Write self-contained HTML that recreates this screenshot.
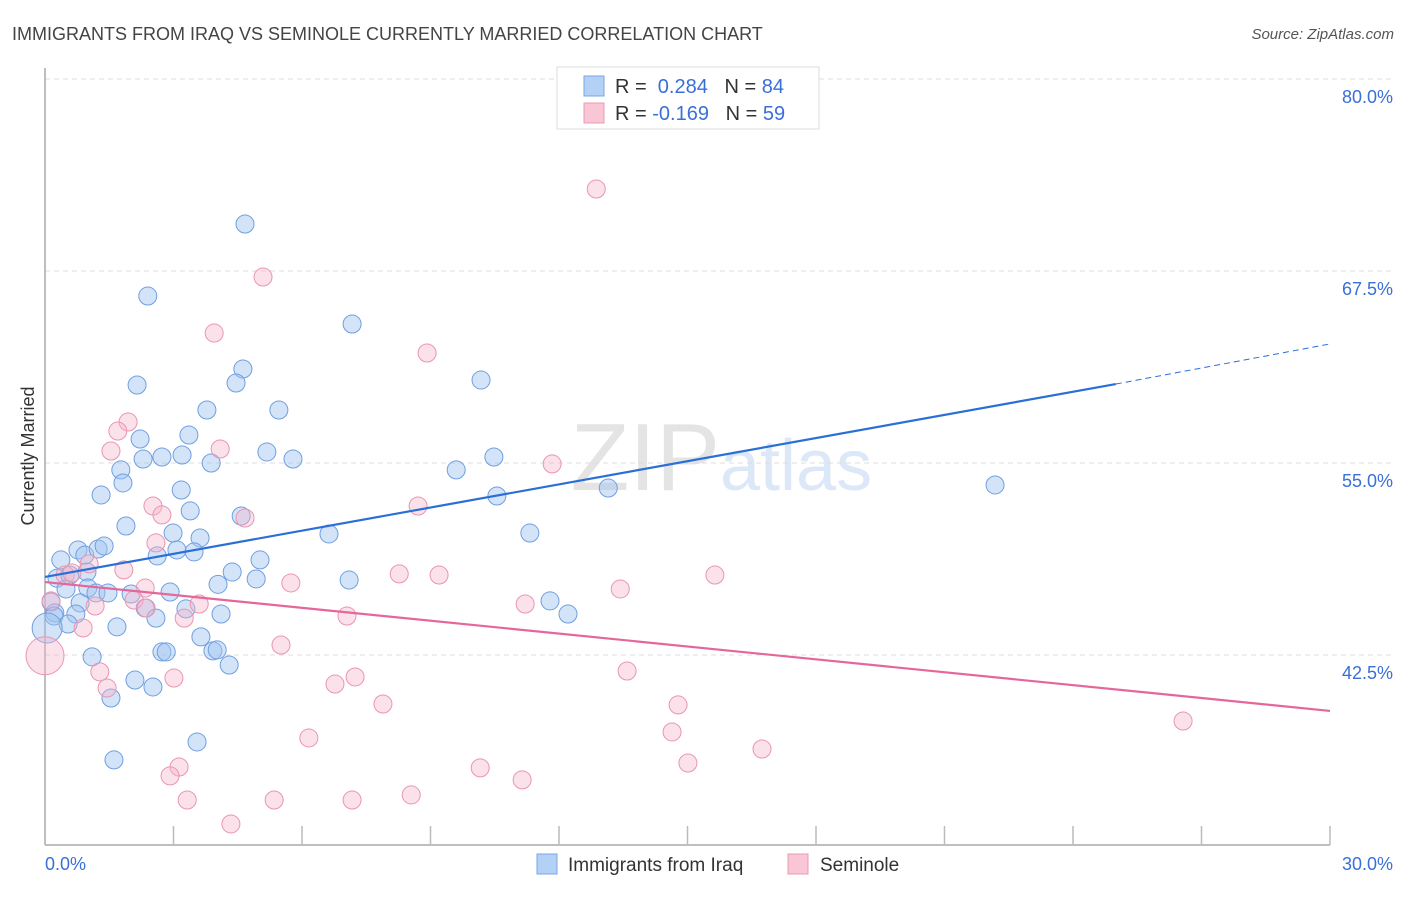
<!DOCTYPE html>
<html><head><meta charset="utf-8"><style>
body{margin:0;background:#fff;font-family:"Liberation Sans",sans-serif}
svg text{font-family:"Liberation Sans",sans-serif}
</style></head><body>
<svg id="chart" width="1406" height="892" viewBox="0 0 1406 892">
<text x="12" y="40" font-size="18" fill="#444">IMMIGRANTS FROM IRAQ VS SEMINOLE CURRENTLY MARRIED CORRELATION CHART</text>
<text x="1394" y="39" font-size="15" fill="#555" text-anchor="end" font-style="italic">Source: ZipAtlas.com</text>
<text x="34" y="456" font-size="18" fill="#333" text-anchor="middle" transform="rotate(-90 34 456)">Currently Married</text>
<text x="720" y="490" font-size="96" fill="#e4e4e4" text-anchor="end" font-family="Liberation Serif">ZIP</text>
<text x="720" y="490" font-size="72" fill="#dce8f8">atlas</text>
<g id="grid"></g><g id="pts"></g><g id="lines"></g>
<g>
<rect x="557" y="67" width="262" height="62" fill="#fff" stroke="#ddd"/>
<rect x="584" y="76" width="20" height="20" fill="#b3d0f5" stroke="#7aa6e6"/>
<rect x="584" y="103" width="20" height="20" fill="#f9c6d6" stroke="#eb9ab4"/>
<text x="615" y="93" font-size="20" fill="#333">R = <tspan fill="#3a6fd8">&#160;0.284</tspan>&#160;&#160;&#160;N = <tspan fill="#3a6fd8">84</tspan></text>
<text x="615" y="120" font-size="20" fill="#333">R = <tspan fill="#3a6fd8">-0.169</tspan>&#160;&#160;&#160;N = <tspan fill="#3a6fd8">59</tspan></text>
</g>
<g>
<rect x="537" y="854" width="20" height="20" fill="#b3d0f5" stroke="#7aa6e6"/>
<text x="568" y="871" font-size="19" fill="#333">Immigrants from Iraq</text>
<rect x="788" y="854" width="20" height="20" fill="#f9c6d6" stroke="#eb9ab4"/>
<text x="820" y="871" font-size="19" fill="#333">Seminole</text>
</g>
</svg>
<script>
const yTicks=[80,67.5,55,42.5];
const xTickLabels=["0.0%","30.0%"];
const blueX=[4.67,2.40,7.17,4.62,2.15,4.46,10.18,3.78,5.46,2.22,3.36,1.77,2.29,2.73,3.20,3.88,5.18,5.79,9.60,10.48,1.82,1.31,3.18,10.55,13.15,22.18,1.89,3.39,4.58,2.99,3.62,6.63,11.32,0.37,0.77,0.93,1.24,1.38,2.62,3.08,3.48,5.02,4.37,4.93,7.10,4.04,0.28,0.58,0.98,0.49,1.0,1.19,1.47,2.01,2.92,0.14,0.82,0.23,0.21,0.72,3.29,2.34,2.59,4.11,11.79,12.21,0.54,1.68,0.05,3.64,1.10,2.73,2.83,3.92,4.02,4.30,2.10,2.52,1.54,3.55,1.61];
const blueY=[70.56,65.87,64.05,61.12,60.08,60.21,60.4,58.45,58.45,56.56,56.82,54.55,55.26,55.39,55.52,55.0,55.72,55.26,54.55,55.39,53.7,52.92,53.24,52.85,53.37,53.57,50.9,51.88,51.55,50.44,50.12,50.38,50.44,48.69,49.34,49.0,49.4,49.6,48.95,49.34,49.21,48.69,47.9,47.45,47.38,47.1,47.5,47.7,47.9,46.8,46.86,46.54,46.54,46.47,46.6,45.95,45.89,45.24,45.04,45.17,45.5,45.56,44.9,45.17,46.02,45.17,44.52,44.33,44.26,43.68,42.38,42.7,42.7,42.77,42.83,41.85,40.87,40.42,39.7,36.84,35.67];
const blueSize=blueX.map((v,i)=>i===68?15:9);
const pinkX=[12.87,5.09,3.95,8.92,1.94,1.70,1.54,4.09,11.84,2.52,2.73,4.67,8.71,2.59,1.84,0.47,0.63,1.03,8.27,9.20,15.64,5.74,2.34,13.43,2.08,1.17,2.36,3.60,3.25,7.05,11.21,0.14,0.89,5.51,1.28,3.01,13.59,6.77,7.24,1.45,7.89,14.78,26.57,6.16,14.64,16.74,15.01,3.13,2.92,10.16,11.14,3.32,5.35,7.17,8.55,4.34,0.0];
const pinkY=[72.84,67.11,63.46,62.16,57.67,57.08,55.78,55.91,54.94,52.2,51.62,51.42,52.2,49.8,48.04,47.71,47.84,48.43,47.78,47.71,47.71,47.19,46.86,46.8,46.08,45.69,45.56,45.82,44.9,45.04,45.82,46.02,44.26,43.15,41.4,41.0,41.46,40.61,41.07,40.35,39.31,39.25,38.2,37.1,37.49,36.38,35.47,35.21,34.63,35.15,34.37,33.06,33.06,33.06,33.39,31.5,42.45];
const pinkSize=pinkX.map((v,i)=>i===56?19:9);
const blueTrend=[[0,47.58],[25,60.14],[30,62.75]];
const pinkTrend=[[0,47.25],[30,38.86]];
const NS="http://www.w3.org/2000/svg";
const X=v=>45+v/30*1285, Y=v=>79+(80-v)*15.36;
function mk(t,a,p){const e=document.createElementNS(NS,t);for(const k in a)e.setAttribute(k,a[k]);p.appendChild(e);return e;}
const grid=document.getElementById('grid');
yTicks.forEach(t=>{
 const l=mk('line',{x1:45,x2:1393,y1:Y(t),y2:Y(t),stroke:'#ddd','stroke-dasharray':'5,4'},grid);
 
 
 const tx=mk('text',{x:1393,y:Y(t)+24,'font-size':18,fill:'#3a6fd8','text-anchor':'end'},grid);
 tx.textContent=t.toFixed(1)+'%';
 
 
});
const ya=mk('line',{x1:45,x2:45,y1:68,y2:845,stroke:'#aaa','stroke-width':1.5},grid);


const xa=mk('line',{x1:45,x2:1330,y1:845,y2:845,stroke:'#aaa','stroke-width':1.5},grid);


for(let i=1;i<=10;i++){const tk=mk('line',{x1:X(i*3),x2:X(i*3),y1:826,y2:845,stroke:'#bbb','stroke-width':1.5},grid);
 
 }
[[0,'start',45],[30,'end',1393]].forEach((d,i)=>{const t=mk('text',{x:d[2],y:870,'font-size':18,fill:'#3a6fd8','text-anchor':d[1]},grid);t.textContent=xTickLabels[i];
 
 });
const pts=document.getElementById('pts');
blueX.forEach((v,i)=>{const c=mk('circle',{cx:X(v),cy:Y(blueY[i]),r:blueSize[i],fill:'rgba(160,196,240,0.45)',stroke:'#6f9fe0','stroke-width':1},pts);
 
 });
pinkX.forEach((v,i)=>{const c=mk('circle',{cx:X(v),cy:Y(pinkY[i]),r:pinkSize[i],fill:'rgba(246,180,202,0.4)',stroke:'#eb95b1','stroke-width':1},pts);
 
 });
const lines=document.getElementById('lines');
const b1=mk('line',{x1:X(blueTrend[0][0]),y1:Y(blueTrend[0][1]),x2:X(blueTrend[1][0]),y2:Y(blueTrend[1][1]),stroke:'#2a6fd6','stroke-width':2.2},lines);


const b2=mk('line',{x1:X(blueTrend[1][0]),y1:Y(blueTrend[1][1]),x2:X(blueTrend[2][0]),y2:Y(blueTrend[2][1]),stroke:'#2a6fd6','stroke-width':1,'stroke-dasharray':'6,4'},lines);


const p1=mk('line',{x1:X(pinkTrend[0][0]),y1:Y(pinkTrend[0][1]),x2:X(pinkTrend[1][0]),y2:Y(pinkTrend[1][1]),stroke:'#e5679a','stroke-width':2.2},lines);


</script>
</body></html>
